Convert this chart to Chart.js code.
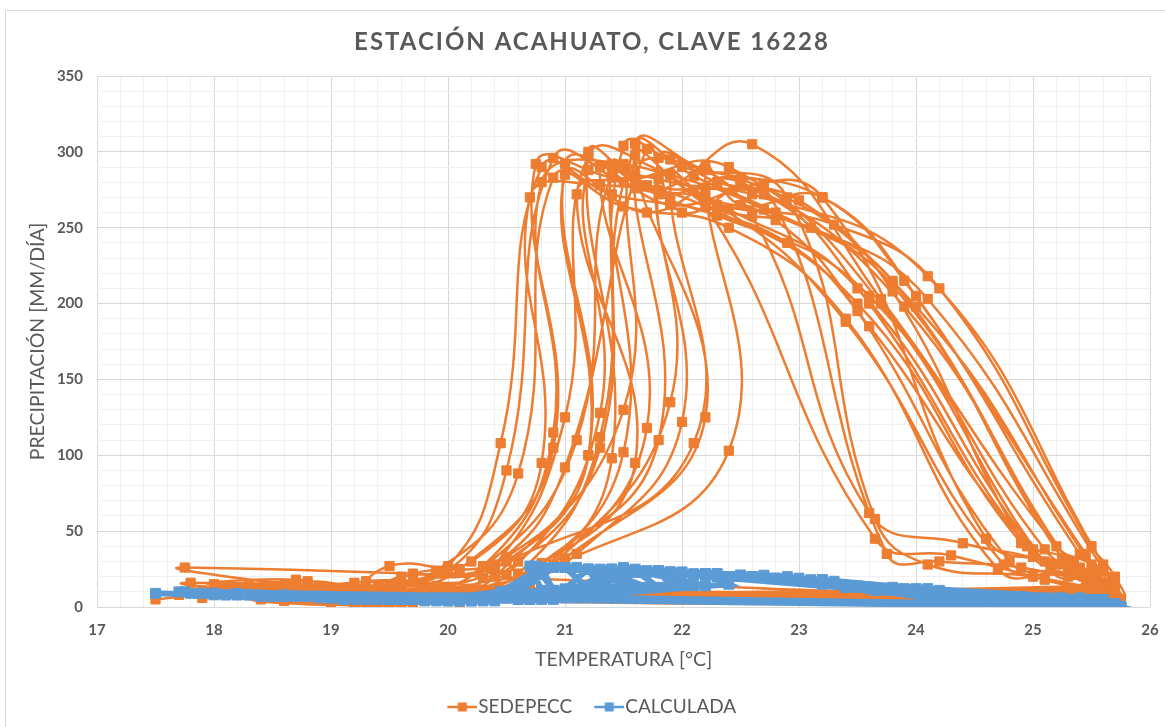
<!DOCTYPE html>
<html><head><meta charset="utf-8">
<script src="https://cdn.jsdelivr.net/npm/chart.js@4/dist/chart.umd.min.js"></script>
<style>
html,body{margin:0;padding:0;background:#fff;overflow:hidden;}
#wrap{position:relative;width:1165px;height:727px;}
#frame{position:absolute;left:5px;top:10px;width:1170px;height:730px;border:1px solid #d9d9d9;box-sizing:border-box;}
canvas{position:absolute;left:0;top:0;}
</style></head><body>
<div id="wrap"><div id="frame"></div><canvas id="c" width="1165" height="727"></canvas></div>
<script>
// Monthly temperature [°C], one row per year (12 consecutive months)
const tempC = [
  [17.5, 18.4, 19.3, 20.0, 20.45, 20.8, 21.4, 22.3, 23.6, 25.1, 25.5, 25.7],
  [17.75, 18.6, 19.6, 20.3, 21.0, 21.2, 21.9, 22.7, 23.8, 25.3, 25.6, 25.75],
  [17.8, 18.9, 19.9, 20.6, 21.3, 21.5, 22.0, 22.9, 23.65, 24.1, 25.0, 25.6],
  [18.0, 19.0, 19.5, 20.2, 20.8, 20.7, 21.3, 22.2, 23.5, 24.9, 25.4, 25.6],
  [18.2, 19.2, 19.8, 20.4, 21.5, 21.6, 22.2, 23.2, 23.9, 25.45, 25.65, 25.75],
  [17.7, 18.5, 19.1, 19.9, 20.6, 20.9, 21.5, 22.4, 23.4, 24.7, 25.3, 25.65],
  [18.3, 19.3, 20.1, 20.7, 21.7, 21.3, 21.8, 22.6, 23.7, 25.2, 25.5, 25.7],
  [18.1, 19.1, 19.7, 20.5, 21.2, 21.0, 21.7, 22.5, 24.0, 25.55, 25.7, 25.75],
  [18.5, 19.4, 20.2, 20.9, 21.9, 21.8, 22.3, 23.0, 23.8, 25.0, 25.4, 25.6],
  [17.9, 18.8, 19.4, 20.1, 20.9, 20.75, 21.4, 22.1, 23.65, 24.3, 25.1, 25.55],
  [18.3, 19.2, 19.6, 20.5, 22.1, 21.9, 22.2, 22.8, 23.5, 24.8, 25.3, 25.5],
  [18.6, 19.5, 20.0, 20.7, 21.4, 21.2, 21.7, 22.6, 24.1, 25.6, 25.7, 25.75],
  [18.0, 18.7, 19.5, 20.3, 21.1, 21.4, 21.9, 22.9, 23.6, 24.9, 25.35, 25.6],
  [18.9, 19.6, 20.3, 21.0, 22.2, 21.6, 22.2, 23.3, 24.2, 25.5, 25.7, 25.75],
  [18.4, 19.3, 19.9, 20.6, 21.6, 21.1, 21.6, 22.4, 23.7, 25.15, 25.5, 25.7],
  [18.2, 18.9, 19.7, 20.4, 21.0, 21.7, 22.0, 22.7, 23.75, 24.2, 24.9, 25.55],
  [18.7, 19.5, 20.2, 20.8, 22.4, 22.2, 22.5, 23.2, 24.0, 25.4, 25.6, 25.65],
  [17.9, 18.6, 19.2, 20.0, 20.5, 20.9, 21.6, 22.3, 23.4, 24.75, 25.3, 25.7],
  [18.1, 19.0, 19.8, 20.6, 21.3, 21.5, 21.9, 22.6, 23.6, 24.4, 25.1, 25.6],
  [18.8, 19.7, 20.4, 21.1, 22.0, 21.8, 22.3, 23.1, 24.1, 25.6, 25.7, 25.75],
  [18.3, 19.1, 19.6, 20.3, 20.9, 20.8, 21.5, 22.4, 23.5, 25.0, 25.35, 25.5],
  [18.6, 19.4, 20.0, 20.6, 21.5, 21.4, 21.8, 22.5, 23.9, 25.3, 25.55, 25.75],
  [18.0, 18.8, 19.6, 20.4, 21.2, 21.0, 21.6, 22.2, 23.2, 24.6, 25.2, 25.45],
  [18.5, 19.3, 20.1, 20.8, 21.8, 21.6, 22.1, 22.8, 23.8, 25.25, 25.5, 25.7],
  [18.2, 19.0, 19.8, 20.5, 21.3, 21.2, 21.9, 22.7, 23.6, 24.95, 25.4, 25.6]
];
// Precipitation SEDEPECC [mm/día]
const precipSedepecc = [
  [5, 12, 17, 27, 108, 290, 272, 258, 205, 38, 18, 6],
  [26, 15, 6, 19, 125, 298, 285, 262, 212, 30, 14, 4],
  [16, 8, 12, 22, 112, 304, 290, 270, 58, 28, 20, 8],
  [12, 3, 27, 30, 95, 270, 278, 264, 200, 42, 25, 12],
  [9, 2, 5, 20, 130, 306, 288, 270, 215, 35, 16, 3],
  [8, 14, 10, 24, 88, 283, 264, 250, 190, 25, 22, 9],
  [14, 6, 3, 15, 118, 290, 275, 305, 203, 40, 28, 12],
  [10, 4, 22, 33, 100, 285, 260, 282, 198, 22, 12, 2],
  [7, 3, 8, 28, 135, 296, 280, 268, 208, 33, 26, 14],
  [11, 17, 13, 25, 105, 292, 283, 275, 45, 34, 18, 7],
  [8, 2, 16, 30, 108, 285, 270, 255, 195, 30, 22, 10],
  [4, 1, 6, 18, 98, 300, 278, 272, 218, 28, 15, 3],
  [15, 18, 9, 26, 110, 285, 268, 240, 185, 45, 30, 10],
  [10, 3, 10, 32, 125, 298, 268, 252, 210, 40, 20, 5],
  [5, 2, 14, 20, 95, 272, 282, 290, 200, 24, 17, 8],
  [9, 6, 18, 28, 92, 302, 260, 278, 35, 30, 26, 12],
  [8, 4, 7, 22, 103, 290, 265, 270, 205, 35, 24, 11],
  [6, 10, 16, 24, 90, 296, 276, 265, 188, 28, 20, 6],
  [12, 4, 9, 30, 105, 280, 295, 258, 62, 42, 30, 9],
  [7, 3, 12, 35, 122, 282, 262, 250, 203, 25, 14, 4],
  [10, 5, 20, 27, 115, 280, 292, 262, 210, 38, 22, 10],
  [8, 2, 11, 16, 102, 292, 272, 280, 198, 30, 16, 5],
  [13, 9, 15, 25, 100, 292, 285, 276, 270, 45, 28, 13],
  [6, 2, 10, 29, 110, 305, 284, 260, 215, 32, 22, 8],
  [9, 5, 13, 21, 128, 288, 265, 272, 200, 40, 25, 10]
];
// Precipitation CALCULADA [mm/día]
const precipCalculada = [
  [9, 7, 5, 6, 10, 26, 24, 20, 13, 6, 3, 1],
  [10, 8, 5, 5, 12, 25, 23, 21, 12, 5, 2, 0],
  [9, 7, 5, 6, 13, 26, 23, 20, 11, 6, 3, 1],
  [8, 6, 5, 6, 11, 27, 24, 21, 14, 7, 3, 1],
  [8, 6, 4, 5, 14, 25, 22, 18, 12, 5, 2, 0],
  [10, 7, 5, 6, 10, 26, 24, 20, 13, 6, 3, 1],
  [8, 6, 4, 5, 13, 25, 23, 20, 12, 6, 3, 1],
  [8, 6, 5, 6, 12, 26, 23, 21, 12, 5, 2, 0],
  [7, 5, 4, 5, 14, 24, 22, 19, 13, 6, 3, 1],
  [9, 7, 5, 6, 11, 27, 24, 21, 11, 6, 3, 1],
  [8, 6, 5, 6, 14, 23, 22, 19, 13, 7, 3, 1],
  [7, 5, 4, 5, 12, 25, 23, 20, 12, 5, 2, 0],
  [9, 7, 5, 6, 12, 25, 23, 19, 13, 6, 3, 1],
  [7, 5, 4, 6, 14, 24, 22, 17, 11, 5, 2, 0],
  [8, 6, 4, 5, 13, 26, 23, 20, 12, 5, 2, 1],
  [9, 6, 5, 6, 11, 24, 23, 20, 11, 6, 3, 1],
  [7, 5, 4, 5, 15, 22, 21, 18, 12, 6, 3, 1],
  [9, 7, 5, 6, 10, 26, 23, 20, 13, 6, 3, 1],
  [8, 6, 5, 6, 12, 25, 23, 20, 12, 6, 3, 1],
  [7, 5, 4, 6, 14, 24, 22, 18, 12, 5, 2, 0],
  [8, 6, 5, 6, 11, 26, 23, 20, 13, 6, 3, 1],
  [7, 5, 4, 5, 13, 25, 23, 20, 12, 5, 2, 0],
  [9, 7, 5, 6, 12, 26, 23, 21, 15, 7, 3, 1],
  [7, 5, 4, 6, 13, 24, 22, 19, 12, 6, 3, 1],
  [8, 6, 5, 6, 12, 25, 23, 20, 13, 6, 3, 1]
];
const seriesNames = ['SEDEPECC', 'CALCULADA'];
const chartTitle = 'ESTACIÓN ACAHUATO, CLAVE 16228';
const xTitle = 'TEMPERATURA [°C]';
const yTitle = 'PRECIPITACIÓN [MM/DÍA]';

const ORANGE = '#ED7D31', BLUE = '#5B9BD5', TEXT = '#595959';
const toPoints = (p) => tempC.flatMap((row, i) => row.map((t, j) => ({x: t, y: p[i][j]})));

function legendIcon(color, lw) {
  const c = document.createElement('canvas');
  c.width = 36; c.height = 12;
  const g = c.getContext('2d');
  g.strokeStyle = color; g.lineWidth = lw;
  g.beginPath(); g.moveTo(6, 6); g.lineTo(36, 6); g.stroke();
  g.fillStyle = color; g.fillRect(16.5, 1.5, 9, 9);
  return c;
}
const icons = [legendIcon(ORANGE, 2.5), legendIcon(BLUE, 2.5)];
const isInt = (v) => Math.abs(v - Math.round(v)) < 1e-6;

const titlePlugin = {
  id: 'spacedTitle',
  afterDraw(chart) {
    const ctx = chart.ctx;
    ctx.save();
    ctx.font = 'bold 24px Lato';
    ctx.fillStyle = TEXT;
    ctx.textAlign = 'center';
    ctx.textBaseline = 'middle';
    if ('letterSpacing' in ctx) ctx.letterSpacing = '2px';
    ctx.fillText(chartTitle, 592, 42);
    ctx.restore();
  }
};

new Chart(document.getElementById('c'), {
  type: 'scatter',
  data: {
    datasets: [
      {
        label: seriesNames[0], data: toPoints(precipSedepecc), showLine: true,
        borderColor: ORANGE, backgroundColor: ORANGE, borderWidth: 2.5, tension: 0.45,
        pointStyle: 'rect', pointRadius: 6.5, pointBorderWidth: 1, pointBackgroundColor: ORANGE, pointBorderColor: ORANGE,
        order: 2
      },
      {
        label: seriesNames[1], data: toPoints(precipCalculada), showLine: true,
        borderColor: BLUE, backgroundColor: BLUE, borderWidth: 6, tension: 0,
        pointStyle: 'rect', pointRadius: 7, pointBorderWidth: 1, pointBackgroundColor: BLUE, pointBorderColor: BLUE,
        order: 1
      }
    ]
  },
  plugins: [titlePlugin],
  options: {
    responsive: false, animation: false, devicePixelRatio: 1,
    layout: { padding: { top: 76, left: 36, right: 15, bottom: 0.5 } },
    plugins: {
      tooltip: { enabled: false },
      title: { display: false },
      legend: {
        position: 'bottom',
        labels: {
          color: TEXT, font: { family: 'Lato', size: 19 },
          usePointStyle: true, pointStyleWidth: 19, padding: 10,
          generateLabels: (chart) => Chart.defaults.plugins.legend.labels.generateLabels(chart)
            .sort((a, b) => a.datasetIndex - b.datasetIndex)
            .map((it) => Object.assign(it, {
              pointStyle: icons[it.datasetIndex],
              text: it.datasetIndex === 0 ? it.text + '   ' : it.text
            }))
        }
      }
    },
    scales: {
      x: {
        type: 'linear', min: 17, max: 26,
        afterFit: (s) => { s.height = 80.5; s.paddingLeft = 0; s.paddingRight = 0; },
        border: { display: false },
        grid: { drawTicks: false, color: (c) => isInt(c.tick.value) ? '#d9d9d9' : '#f0f0f0', lineWidth: 1 },
        ticks: {
          stepSize: 0.2, autoSkip: false, maxRotation: 0, padding: 14, color: TEXT,
          font: { family: 'Lato', size: 15, weight: 'bold' },
          callback: (v) => isInt(v) ? String(Math.round(v)) : ''
        },
        title: { display: true, text: xTitle, color: TEXT, font: { family: 'Lato', size: 19.5 }, padding: { top: 0, bottom: 15.8 } }
      },
      y: {
        type: 'linear', min: 0, max: 350,
        afterFit: (s) => { s.width = 61; },
        border: { display: false },
        grid: { drawTicks: false, color: (c) => (Math.round(c.tick.value) % 50 === 0) ? '#d9d9d9' : '#f0f0f0', lineWidth: 1 },
        ticks: {
          stepSize: 10, autoSkip: false, padding: 14, color: TEXT,
          font: { family: 'Lato', size: 15, weight: 'bold' },
          callback: (v) => (Math.round(v) % 50 === 0) ? String(Math.round(v)) : ''
        },
        title: { display: true, text: yTitle, color: TEXT, font: { family: 'Lato', size: 19.5 }, padding: { top: -9.5, bottom: 0 } }
      }
    }
  }
});
</script>
</body></html>
